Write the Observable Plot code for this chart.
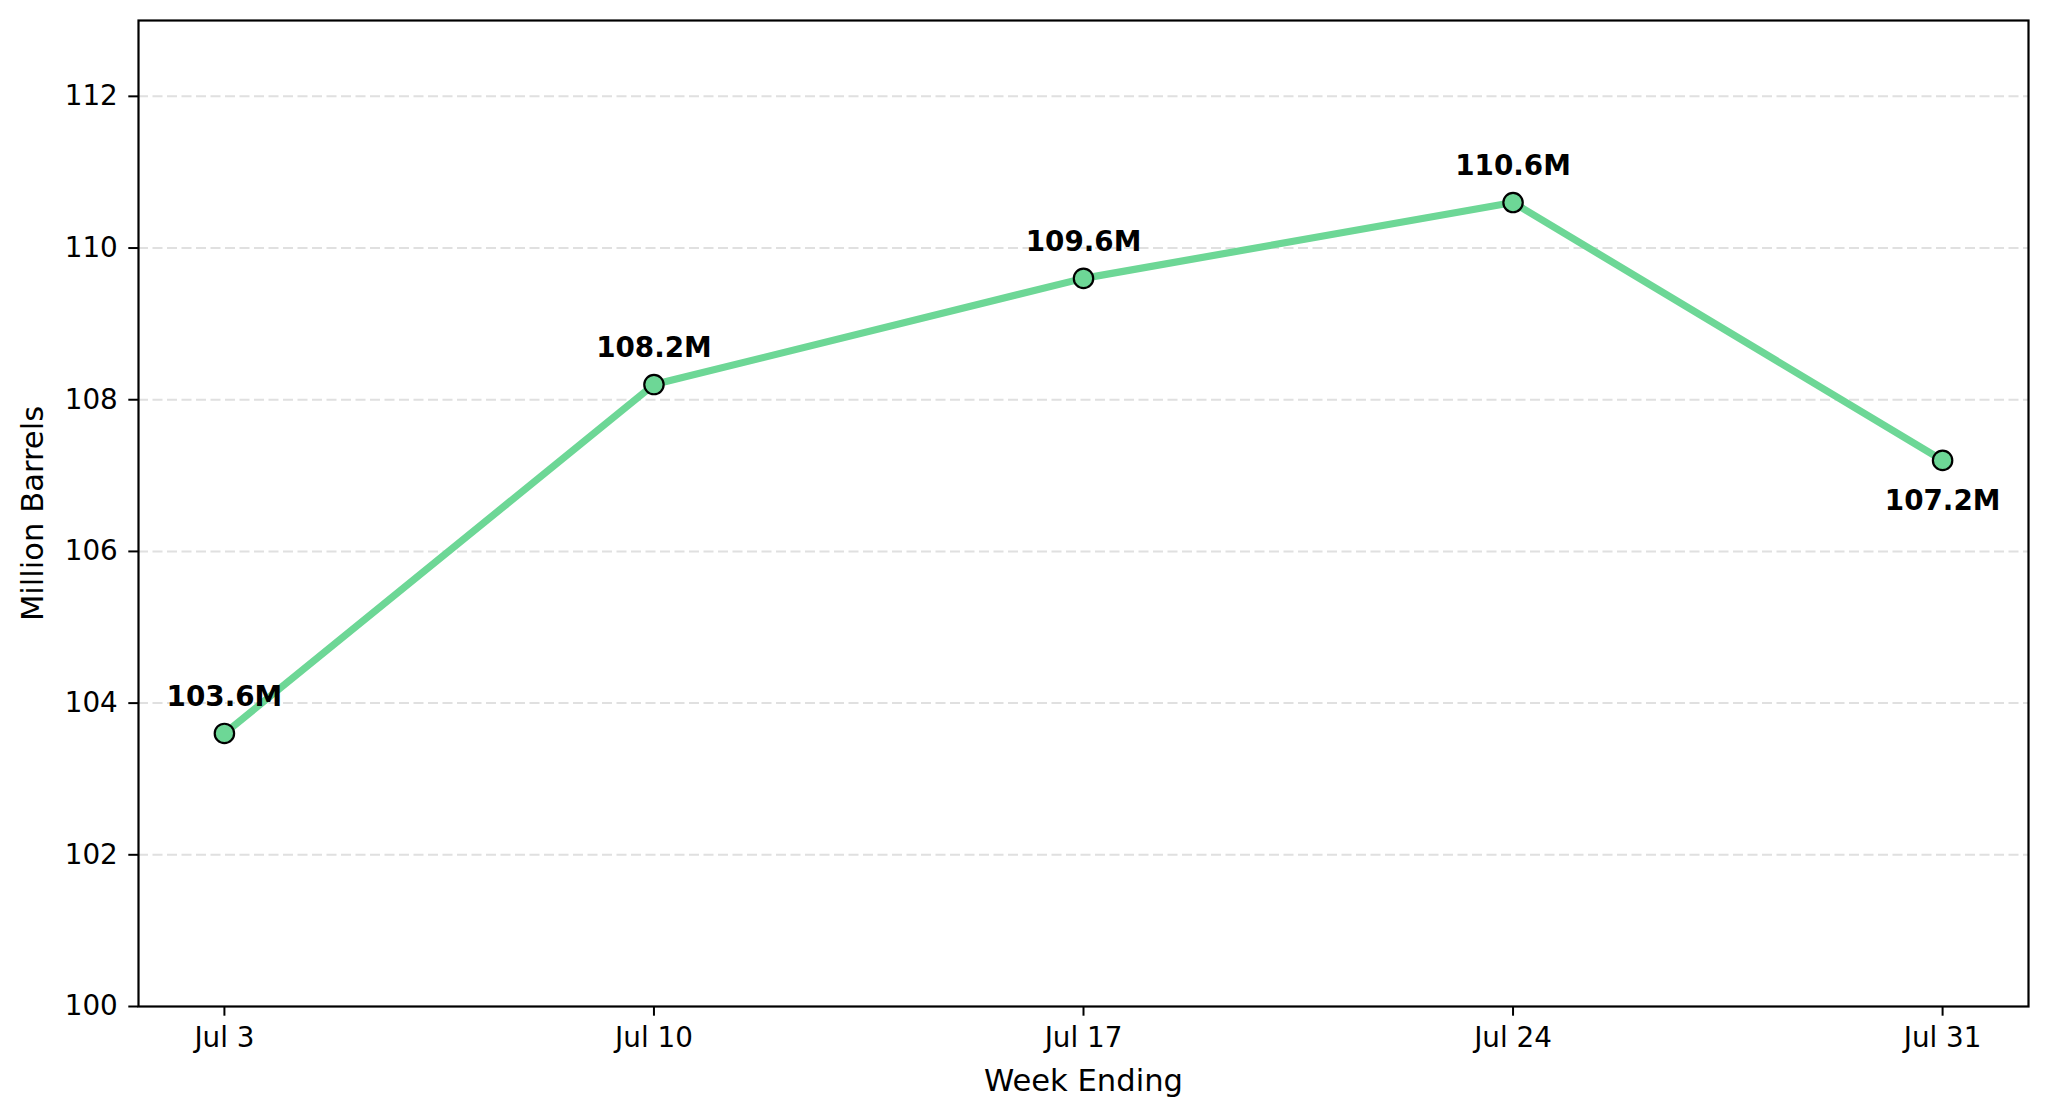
<!DOCTYPE html>
<html>
<head>
<meta charset="utf-8">
<script src="https://cdn.jsdelivr.net/npm/d3@7"></script>
<script src="https://cdn.jsdelivr.net/npm/@observablehq/plot@0.6"></script>
<style>
  html, body { margin: 0; padding: 0; background: #fff; }
  #chart svg { display: block; }
</style>
</head>
<body>
<div id="chart"></div>
<script>
// Data
const weekEnding = ["2020-07-03", "2020-07-10", "2020-07-17", "2020-07-24", "2020-07-31"];
const millionBarrels = [103.6, 108.2, 109.6, 110.6, 107.2];
const yTicks = [100, 102, 104, 106, 108, 110, 112];
const yDomain = [100, 113];
const xLabel = "Week Ending";
const yLabel = "Million Barrels";

const rows = weekEnding.map((d, i) => ({
  date: new Date(d + "T00:00:00Z"),
  value: millionBarrels[i],
  label: millionBarrels[i].toFixed(1) + "M",
  last: i === weekEnding.length - 1
}));

const dates = rows.map(r => r.date);
const span = dates[dates.length - 1] - dates[0];
const xDomain = [new Date(+dates[0] - span * 0.05), new Date(+dates[dates.length - 1] + span * 0.05)];

const font = "DejaVu Sans, sans-serif";
const lineColor = "#6dd796";

const chart = Plot.plot({
  width: 2048,
  height: 1118,
  marginLeft: 138,
  marginRight: 20,
  marginTop: 20,
  marginBottom: 112,
  style: { fontFamily: font, fontSize: "27.8px", color: "#000", background: "#fff" },
  x: { type: "utc", domain: xDomain },
  y: { domain: yDomain },
  marks: [
    Plot.gridY(yTicks.slice(1), { stroke: "#e0e0e0", strokeOpacity: 1, strokeWidth: 2, strokeDasharray: "10,4.5" }),
    Plot.axisY({ ticks: yTicks, tickSize: 9.7, tickPadding: 11, label: null, fontSize: 27.8, strokeWidth: 2 }),
    Plot.axisX({ ticks: dates, tickFormat: d3.utcFormat("%b %-d"), tickSize: 9.7, tickPadding: 11, label: null, fontSize: 27.8, strokeWidth: 2 }),
    Plot.text([yLabel], { frameAnchor: "left", dx: -105, rotate: -90, fontSize: 30.6, textAnchor: "middle", lineAnchor: "middle", fill: "#000" }),
    Plot.text([xLabel], { frameAnchor: "bottom", dy: 75, fontSize: 30.6, textAnchor: "middle", lineAnchor: "middle", fill: "#000" }),
    Plot.line(rows, { x: "date", y: "value", stroke: lineColor, strokeWidth: 7.2, strokeLinejoin: "round", strokeLinecap: "butt" }),
    Plot.dot(rows, { x: "date", y: "value", r: 9.7, fill: lineColor, stroke: "#000", strokeWidth: 2.2 }),
    Plot.text(rows.filter(r => !r.last), { x: "date", y: "value", text: "label", dy: -36, fontWeight: "bold", fontSize: 27.8, textAnchor: "middle", lineAnchor: "middle", fill: "#000" }),
    Plot.text(rows.filter(r => r.last), { x: "date", y: "value", text: "label", dy: 41, fontWeight: "bold", fontSize: 27.8, textAnchor: "middle", lineAnchor: "middle", fill: "#000" }),
    Plot.frame({ stroke: "#000", strokeWidth: 2.2 })
  ]
});

document.getElementById("chart").appendChild(chart);
</script>
</body>
</html>
